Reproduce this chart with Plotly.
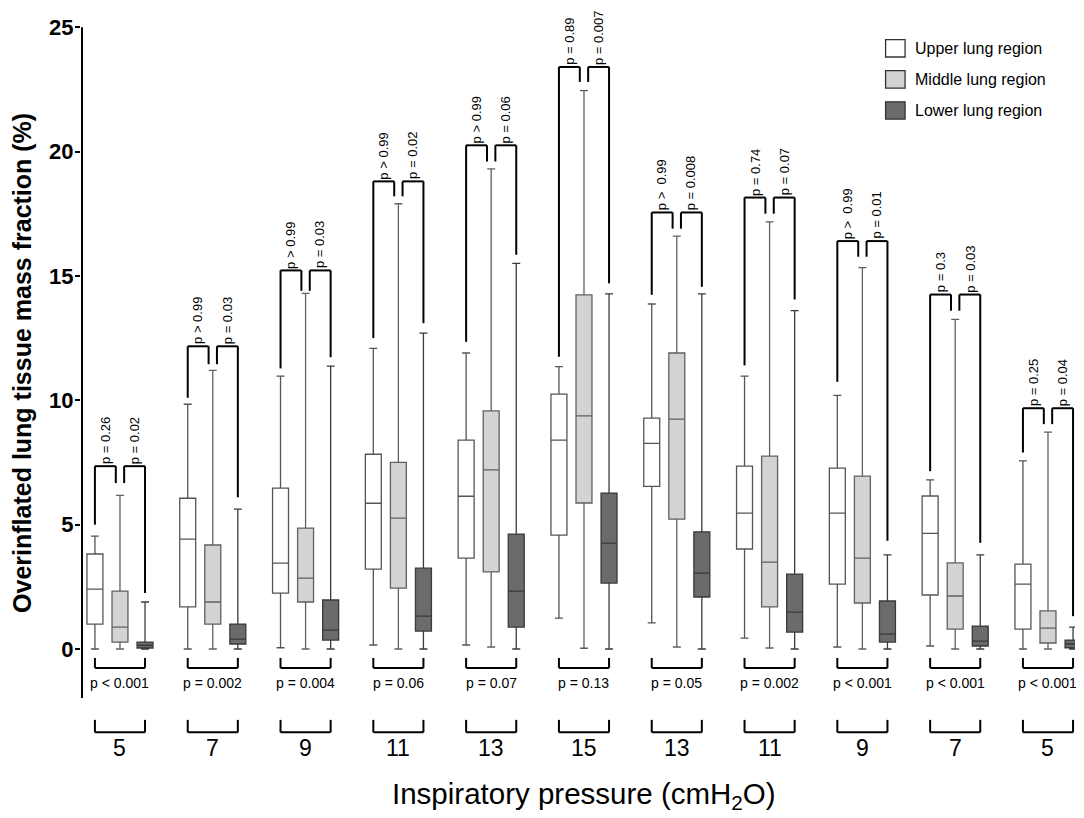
import plotly.graph_objects as go

pressures = ["5", "7", "9", "11", "13", "15", "13", "11", "9", "7", "5"]

upper_min = [0, 0, 0.05, 0.16, 0.16, 1.24, 1.05, 0.44, 0.08, 0.12, 0]
upper_q1 = [1.0, 1.69, 2.25, 3.21, 3.65, 4.58, 6.54, 4.02, 2.61, 2.17, 0.8]
upper_med = [2.41, 4.42, 3.45, 5.86, 6.14, 8.4, 8.27, 5.46, 5.46, 4.65, 2.61]
upper_q3 = [3.82, 6.06, 6.47, 7.83, 8.4, 10.25, 9.28, 7.35, 7.27, 6.15, 3.41]
upper_max = [4.54, 9.84, 10.97, 12.09, 11.9, 11.35, 13.87, 10.97, 10.2, 6.8, 7.56]

middle_min = [0, 0, 0, 0, 0.08, 0.03, 0.08, 0.04, 0, 0, 0]
middle_q1 = [0.28, 1.0, 1.89, 2.45, 3.1, 5.87, 5.22, 1.69, 1.85, 0.8, 0.24]
middle_med = [0.88, 1.89, 2.85, 5.26, 7.2, 9.37, 9.24, 3.49, 3.65, 2.13, 0.84]
middle_q3 = [2.33, 4.18, 4.86, 7.5, 9.57, 14.24, 11.9, 7.75, 6.95, 3.46, 1.53]
middle_max = [6.18, 11.2, 14.3, 17.9, 19.3, 22.45, 16.6, 17.17, 15.33, 13.25, 8.72]

lower_min = [0, 0, 0, 0, 0, 0, 0, 0, 0, 0, 0]
lower_q1 = [0.04, 0.2, 0.36, 0.72, 0.88, 2.65, 2.09, 0.68, 0.28, 0.12, 0.05]
lower_med = [0.15, 0.4, 0.76, 1.32, 2.33, 4.26, 3.05, 1.48, 0.6, 0.32, 0.2]
lower_q3 = [0.28, 1.0, 1.97, 3.25, 4.62, 6.27, 4.71, 3.01, 1.93, 0.92, 0.36]
lower_max = [1.89, 5.62, 11.37, 12.7, 15.5, 14.28, 14.28, 13.6, 3.78, 3.78, 0.88]

# pairwise comparison brackets (top) and overall test (bottom)
bracket_top = [7.35, 12.17, 15.22, 18.8, 20.25, 23.4, 17.55, 18.15, 16.4, 14.25, 9.68]
leg_upper = [5.0, 10.1, 11.28, 12.5, 12.35, 11.75, 14.24, 11.4, 10.74, 7.15, 7.9]
leg_middle = [6.67, 11.45, 14.4, 18.2, 19.6, 22.8, 16.9, 17.5, 15.77, 13.6, 9.04]
leg_lower = [2.25, 6.1, 11.73, 13.1, 15.85, 14.7, 14.56, 14.05, 4.35, 4.27, 1.32]

p_upper_middle = ["p = 0.26", "p > 0.99", "p > 0.99", "p > 0.99", "p > 0.99", "p = 0.89",
                  "p >  0.99", "p = 0.74", "p >  0.99", "p = 0.3", "p = 0.25"]
p_middle_lower = ["p = 0.02", "p = 0.03", "p = 0.03", "p = 0.02", "p = 0.06", "p = 0.007",
                  "p = 0.008", "p = 0.07", "p = 0.01", "p = 0.03", "p = 0.04"]
p_overall = ["p < 0.001", "p = 0.002", "p = 0.004", "p = 0.06", "p = 0.07", "p = 0.13",
             "p = 0.05", "p = 0.002", "p < 0.001", "p < 0.001", "p < 0.001"]

regions = ["Upper lung region", "Middle lung region", "Lower lung region"]
fills = ["#ffffff", "#d3d3d3", "#6b6b6b"]
outlines = ["#555555", "#606060", "#3a3a3a"]

OFF = 0.27
INNER = 0.045
BLACK = "#000000"
FONT = "Liberation Sans"

stats = [
    (upper_min, upper_q1, upper_med, upper_q3, upper_max),
    (middle_min, middle_q1, middle_med, middle_q3, middle_max),
    (lower_min, lower_q1, lower_med, lower_q3, lower_max),
]

fig = go.Figure()
for k, (mn, q1, med, q3, mx) in enumerate(stats):
    xs = [i + (k - 1) * OFF for i in range(len(pressures))]
    fig.add_trace(go.Box(
        x=xs, lowerfence=mn, q1=q1, median=med, q3=q3, upperfence=mx,
        name=regions[k], fillcolor=fills[k],
        line=dict(color=outlines[k], width=1.3),
        width=0.172, whiskerwidth=0.5, boxpoints=False,
        showlegend=False, hoverinfo="skip",
    ))

shapes = []
annotations = []


def seg(x0, y0, x1, y1, width=2, xref="x"):
    shapes.append(dict(type="line", xref=xref, yref="y", x0=x0, y0=y0, x1=x1, y1=y1,
                       line=dict(color=BLACK, width=width)))


for i in range(len(pressures)):
    xu, xl = i - OFF, i + OFF
    top = bracket_top[i]
    # left bracket: upper vs middle
    seg(xu, leg_upper[i], xu, top)
    seg(xu, top, i - INNER, top)
    seg(i - INNER, top, i - INNER, leg_middle[i])
    # right bracket: middle vs lower
    seg(i + INNER, leg_middle[i], i + INNER, top)
    seg(i + INNER, top, xl, top)
    seg(xl, top, xl, leg_lower[i])
    for xc, txt in [((xu + i - INNER) / 2, p_upper_middle[i]),
                    ((xl + i + INNER) / 2, p_middle_lower[i])]:
        annotations.append(dict(x=xc, y=top, text=txt, textangle=-90, showarrow=False,
                                xanchor="center", yanchor="bottom", yshift=1, borderpad=0,
                                font=dict(family=FONT, size=13, color=BLACK)))
    # overall test bracket under the boxes
    seg(xu, -0.36, xu, -0.76)
    seg(xu, -0.76, xl, -0.76)
    seg(xl, -0.76, xl, -0.36)
    annotations.append(dict(x=i, y=-1.37, text=p_overall[i], showarrow=False,
                            font=dict(family=FONT, size=14, color=BLACK)))
    # pressure label bracket
    seg(xu, -2.85, xu, -3.35)
    seg(xu, -3.35, xl, -3.35)
    seg(xl, -3.35, xl, -2.85)
    annotations.append(dict(x=i, y=-3.35, text=pressures[i], showarrow=False,
                            yanchor="top", yshift=-1,
                            font=dict(family=FONT, size=23, color=BLACK)))

# y axis line, stopping a little below zero
shapes.append(dict(type="line", xref="paper", yref="y", x0=0.001, x1=0.001, y0=-1.97, y1=25,
                   line=dict(color=BLACK, width=2)))

# legend
for k in range(3):
    yc = 24.15 - k * 1.25
    shapes.append(dict(type="rect", xref="x", yref="y", x0=8.25, x1=8.46,
                       y0=yc - 0.35, y1=yc + 0.35, fillcolor=fills[k],
                       line=dict(color="#333333", width=1.3)))
    annotations.append(dict(x=8.54, y=yc, text=regions[k], showarrow=False,
                            xanchor="left", yanchor="middle",
                            font=dict(family=FONT, size=16, color=BLACK)))

annotations.append(dict(x=0.002, xref="paper", xshift=-61, y=11.5,
                        text="<b>Overinflated lung tissue mass fraction (%)</b>",
                        textangle=-90, showarrow=False, xanchor="center",
                        font=dict(family=FONT, size=25, color=BLACK)))
annotations.append(dict(x=5, y=0, yref="paper", yanchor="middle", yshift=-25,
                        text="Inspiratory pressure (cmH<sub>2</sub>O)",
                        showarrow=False, font=dict(family=FONT, size=29.5, color=BLACK)))

# the page body adds an 8px margin, so the figure is 8px smaller than the window
fig.update_layout(
    width=1076, height=810,
    margin=dict(l=73, r=9, t=2, b=48),
    paper_bgcolor="white", plot_bgcolor="white",
    shapes=shapes, annotations=annotations,
    showlegend=False,
    xaxis=dict(range=[-0.42, 10.291], visible=False),
    yaxis=dict(range=[-4.865, 25.69], tickvals=[0, 5, 10, 15, 20, 25],
               showgrid=False, zeroline=False, showline=False,
               ticks="outside", ticklen=5, tickwidth=2, tickcolor=BLACK,
               ticklabelstandoff=-3,
               tickfont=dict(family=FONT, size=22, color=BLACK, weight="bold")),
)

fig.write_html("out.html")
